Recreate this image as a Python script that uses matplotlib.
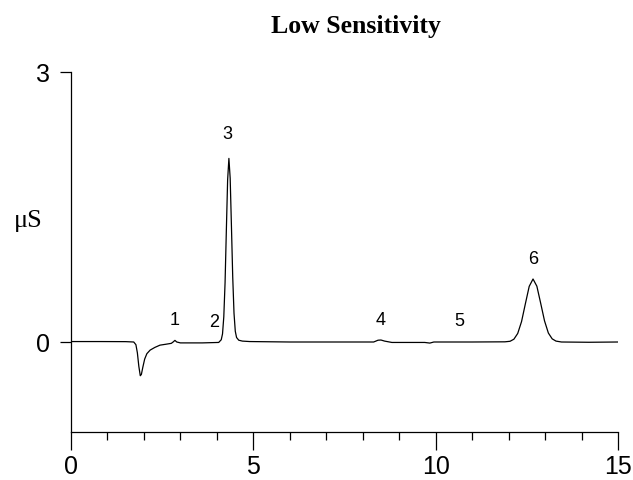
import matplotlib.pyplot as plt
from matplotlib.ticker import MultipleLocator

# conductivity trace (minutes, microsiemens)
time_min = [
    0.0, 0.8, 1.5, 1.72, 1.78, 1.82, 1.86, 1.90, 1.93, 1.97, 2.02, 2.08,
    2.17, 2.30, 2.44, 2.60, 2.75, 2.80, 2.85, 2.90, 3.00, 3.60, 4.05,
    4.12, 4.155, 4.19, 4.225, 4.26, 4.295, 4.33, 4.365, 4.40, 4.435,
    4.47, 4.505, 4.54, 4.60, 4.70, 4.90, 6.0, 7.5, 8.30, 8.42, 8.50,
    8.60, 8.80, 9.70, 9.84, 9.95, 11.0, 11.9, 12.04, 12.145, 12.25,
    12.355, 12.46, 12.565, 12.67, 12.775, 12.88, 12.985, 13.09, 13.195,
    13.30, 13.45, 14.2, 15.0,
]
signal_us = [
    0.005, 0.005, 0.004, 0.0, -0.03, -0.12, -0.27, -0.375, -0.36, -0.28,
    -0.19, -0.13, -0.09, -0.06, -0.035, -0.025, -0.015, 0.0, 0.018, 0.0,
    -0.01, -0.01, -0.005, 0.025, 0.09, 0.28, 0.66, 1.24, 1.80, 2.04,
    1.82, 1.28, 0.72, 0.32, 0.12, 0.05, 0.02, 0.01, 0.005, 0.0, 0.0,
    0.0, 0.02, 0.022, 0.01, -0.005, -0.005, -0.012, 0.0, 0.0, 0.002,
    0.008, 0.031, 0.095, 0.227, 0.425, 0.618, 0.70, 0.62, 0.43, 0.235,
    0.10, 0.035, 0.01, 0.0, -0.003, 0.0,
]

# peak numbers and where they are written
peak_ids = ["1", "2", "3", "4", "5", "6"]
peak_x = [2.85, 3.92, 4.30, 8.50, 10.64, 12.67]
peak_y = [0.24, 0.22, 2.31, 0.24, 0.23, 0.92]

fig = plt.figure(figsize=(6.33, 4.8), dpi=100)
ax = fig.add_axes([71 / 633, 48 / 480, 547 / 633, 360 / 480])

ax.plot(time_min, signal_us, color="black", linewidth=0.9)

for label, x, y in zip(peak_ids, peak_x, peak_y):
    ax.text(x, y, label, ha="center", va="center", fontsize=13,
            family="Liberation Sans")

ax.set_xlim(0, 15)
ax.set_ylim(-1, 3)
ax.set_xticks([0, 5, 10, 15])
ax.xaxis.set_minor_locator(MultipleLocator(1))
ax.set_yticks([0, 3])

for side in ["top", "right"]:
    ax.spines[side].set_visible(False)
for side in ["left", "bottom"]:
    ax.spines[side].set_linewidth(0.9)

ax.tick_params(axis="x", which="major", length=13, width=0.9,
               labelsize=18, pad=3.5)
ax.tick_params(axis="x", which="minor", length=6, width=0.9)
ax.tick_params(axis="y", which="major", length=8, width=0.9,
               labelsize=18, pad=7)
for lbl in ax.get_xticklabels() + ax.get_yticklabels():
    lbl.set_family("Liberation Sans")

fig.text(28 / 633, 1 - 221 / 480, "μS", ha="center", va="center",
         fontsize=19, family="Liberation Serif")
fig.text(356 / 633, 1 - 27 / 480, "Low Sensitivity", ha="center",
         va="center", fontsize=18.5, fontweight="bold",
         family="Liberation Serif")

fig.savefig("out.png", dpi=100)
